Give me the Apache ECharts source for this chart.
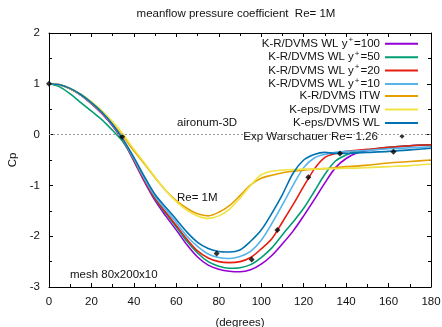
<!DOCTYPE html>
<html>
<head>
<meta charset="utf-8">
<script src="https://cdn.jsdelivr.net/npm/echarts@6/dist/echarts.min.js"></script>
<style>
html,body{margin:0;padding:0;background:#fff;}
#chart{width:442px;height:327px;}
</style>
</head>
<body>
<div id="chart"></div>
<script>
// ---- data ----
const titleText = 'meanflow pressure coefficient  Re= 1M';
const xName = '(degrees)';
const yName = 'Cp';
const xTicks = [0, 20, 40, 60, 80, 100, 120, 140, 160, 180];
const yTicks = [-3, -2, -1, 0, 1, 2];
const zeroLine = 0;

const angles = [0,5,10,15,20,25,30,35,40,45,50,55,60,65,70,75,80,85,90,95,100,105,110,115,120,125,130,135,140,145,150,160,170,180];

const seriesNames = [
  'K-R/DVMS WL y+=100',
  'K-R/DVMS WL y+=50',
  'K-R/DVMS WL y+=20',
  'K-R/DVMS WL y+=10',
  'K-R/DVMS ITW',
  'K-eps/DVMS ITW',
  'K-eps/DVMS WL'
];
const seriesColors = ['#9400d3', '#009e73', '#e51e10', '#56b4e9', '#e69f00', '#f0e442', '#0072b2'];

const cpKR_WL_y100 = [1.0,0.98,0.9,0.78,0.61,0.41,0.17,-0.13, -0.52,-0.93,-1.3,-1.6,-1.88,-2.17,-2.41,-2.57,-2.65,-2.69, -2.7,-2.66,-2.55,-2.38,-2.15,-1.9,-1.6,-1.28,-0.95,-0.65,-0.47,-0.36,-0.31, -0.26,-0.22,-0.2];
const cpKR_WL_y50  = [1.0,0.94,0.8,0.63,0.46,0.29,0.08,-0.15, -0.5,-0.9,-1.27,-1.55,-1.82,-2.1,-2.33,-2.5,-2.59,-2.63, -2.62,-2.56,-2.42,-2.23,-1.97,-1.72,-1.45,-1.12,-0.78,-0.52,-0.4,-0.33,-0.3, -0.25,-0.22,-0.2];
const cpKR_WL_y20  = [1.0,0.98,0.9,0.78,0.61,0.42,0.18,-0.12, -0.5,-0.9,-1.26,-1.53,-1.79,-2.06,-2.29,-2.43,-2.5,-2.52, -2.5,-2.42,-2.25,-2.05,-1.72,-1.38,-1.02,-0.68,-0.45,-0.37,-0.33,-0.31,-0.29, -0.25,-0.22,-0.2];
const cpKR_WL_y10  = [1.0,0.98,0.9,0.78,0.62,0.43,0.19,-0.11, -0.48,-0.87,-1.22,-1.48,-1.73,-2.0,-2.2,-2.35,-2.42,-2.44, -2.4,-2.3,-2.08,-1.75,-1.38,-1.0,-0.65,-0.46,-0.39,-0.35,-0.33,-0.32,-0.31, -0.28,-0.26,-0.24];
const cpKR_ITW     = [1.0,0.98,0.9,0.79,0.63,0.45,0.22,-0.04, -0.32,-0.58,-0.85,-1.1,-1.3,-1.45,-1.56,-1.6,-1.53,-1.4, -1.2,-0.99,-0.86,-0.8,-0.75,-0.72,-0.7,-0.68,-0.67,-0.65,-0.63,-0.62,-0.6, -0.56,-0.53,-0.5];
const cpKeps_ITW   = [1.0,0.98,0.91,0.8,0.65,0.47,0.25,0.0, -0.29,-0.56,-0.84,-1.1,-1.32,-1.49,-1.6,-1.65,-1.6,-1.47, -1.25,-1.0,-0.79,-0.72,-0.7,-0.69,-0.68,-0.68,-0.67,-0.67,-0.66,-0.66,-0.65, -0.63,-0.61,-0.58];
const cpKeps_WL    = [1.0,0.98,0.91,0.79,0.63,0.44,0.2,-0.1, -0.45,-0.83,-1.18,-1.43,-1.67,-1.92,-2.12,-2.24,-2.3,-2.31, -2.27,-2.1,-1.88,-1.55,-1.18,-0.76,-0.5,-0.39,-0.35,-0.37,-0.37,-0.36,-0.35, -0.33,-0.3,-0.27];

const expName = 'Exp Warschauer Re= 1.26';
const expDeg = [0, 34.5, 79, 95.5, 107.6, 122.2, 137.1, 162.3];
const expCp  = [1.0, -0.04, -2.34, -2.46, -1.88, -0.84, -0.37, -0.34];

const annotations = [
  {text: 'aironum-3D', x: 177, y: 123},
  {text: 'Re= 1M', x: 177, y: 198},
  {text: 'mesh 80x200x10', x: 70, y: 275}
];

// ---- build ----
const cpSeries = [cpKR_WL_y100, cpKR_WL_y50, cpKR_WL_y20, cpKR_WL_y10, cpKR_ITW, cpKeps_ITW, cpKeps_WL];
const FONT = 'Liberation Sans, Arial, sans-serif';
const FS = 11.5;
const TXT = '#111';

const series = cpSeries.map((arr, i) => ({
  name: seriesNames[i],
  type: 'line',
  data: angles.map((a, k) => [a, arr[k]]),
  symbol: 'none',
  smooth: 0.3,
  lineStyle: {color: seriesColors[i], width: 1.6},
  itemStyle: {color: seriesColors[i]},
  z: 3
}));
series.push({
  name: expName,
  type: 'scatter',
  data: expDeg.map((d, k) => [d, expCp[k]]),
  symbol: 'diamond',
  symbolSize: 6,
  itemStyle: {color: '#000'},
  z: 4
});
// zero line
series.push({
  name: 'zero',
  type: 'line',
  data: [],
  markLine: {
    silent: true,
    symbol: 'none',
    label: {show: false},
    lineStyle: {color: '#999', type: [2, 2], width: 1},
    data: [{yAxis: zeroLine}]
  },
  z: 1
});

const allNames = seriesNames.concat([expName]);
const rowH = 13.45;
const firstRowCenter = 42.7;
function fmt(n) {
  const parts = n.split('y+');
  if (parts.length > 1) return '{n|' + parts[0] + 'y}{s|+}{n|' + parts[1] + '}';
  if (n === expName) return '{e|' + n + '}';
  return '{n|' + n + '}';
}
const legends = allNames.map((n, i) => {
  const isExp = n === expName;
  return {
    data: [{name: n, icon: isExp ? 'diamond' : 'rect'}],
    orient: 'vertical',
    align: 'right',
    right: isExp ? 37.5 : 24,
    top: firstRowCenter + i * rowH - 6.5,
    padding: 0,
    itemWidth: isExp ? 5 : 33,
    itemHeight: isExp ? 5 : 2,
    selectedMode: false,
    formatter: fmt,
    textStyle: {
      fontFamily: FONT,
      color: TXT,
      padding: isExp ? [0, 16.5, 0, 0] : 0,
      rich: {
        n: {fontFamily: FONT, fontSize: FS, color: TXT, lineHeight: 13},
        e: {fontFamily: FONT, fontSize: FS, color: TXT, lineHeight: 13, backgroundColor: '#fff'},
        s: {fontFamily: FONT, fontSize: 8, color: TXT, padding: [0, 1, 7, 1]}
      }
    }
  };
});

const axisCommonX = {
  type: 'value', min: xTicks[0], max: xTicks[xTicks.length - 1], interval: xTicks[1] - xTicks[0],
  axisLine: {show: true, onZero: false, lineStyle: {color: '#000', width: 1}},
  axisTick: {show: true, inside: true, length: 4, lineStyle: {color: '#000'}},
  minorTick: {show: true, splitNumber: 2, length: 3, lineStyle: {color: '#000'}},
  splitLine: {show: false}
};
const axisCommonY = {
  type: 'value', min: yTicks[0], max: yTicks[yTicks.length - 1], interval: yTicks[1] - yTicks[0],
  axisLine: {show: true, onZero: false, lineStyle: {color: '#000', width: 1}},
  axisTick: {show: true, inside: true, length: 4, lineStyle: {color: '#000'}},
  minorTick: {show: true, splitNumber: 2, length: 3, lineStyle: {color: '#000'}},
  splitLine: {show: false}
};

const chart = echarts.init(document.getElementById('chart'), null, {renderer: 'canvas'});
chart.setOption({
  animation: false,
  backgroundColor: '#fff',
  grid: {left: 49, right: 11, top: 33, bottom: 40, containLabel: false, outerBoundsMode: 'none'},
  xAxis: [
    Object.assign({}, axisCommonX, {
      position: 'bottom',
      name: xName, nameLocation: 'middle', nameGap: 30,
      nameTextStyle: {fontFamily: FONT, fontSize: FS, color: TXT},
      axisLabel: {fontFamily: FONT, fontSize: FS, color: TXT, margin: 9}
    }),
    Object.assign({}, axisCommonX, {position: 'top', axisLabel: {show: false}})
  ],
  yAxis: [
    Object.assign({}, axisCommonY, {
      position: 'left',
      name: yName, nameLocation: 'middle', nameGap: 29, nameRotate: 90,
      nameTextStyle: {fontFamily: FONT, fontSize: FS, color: TXT},
      axisLabel: {fontFamily: FONT, fontSize: FS, color: TXT, margin: 9}
    }),
    Object.assign({}, axisCommonY, {position: 'right', axisLabel: {show: false}})
  ],
  legend: legends,
  graphic: [
    {type: 'text', x: 236, y: 14, style: {text: titleText, font: FS + 'px ' + FONT, fill: TXT, textAlign: 'center', textVerticalAlign: 'middle'}, silent: true}
  ].concat(annotations.map(a => ({
    type: 'text', x: a.x, y: a.y,
    style: {text: a.text, font: FS + 'px ' + FONT, fill: TXT, textAlign: 'left', textVerticalAlign: 'middle'},
    silent: true
  }))),
  series: series
});
</script>
</body>
</html>
